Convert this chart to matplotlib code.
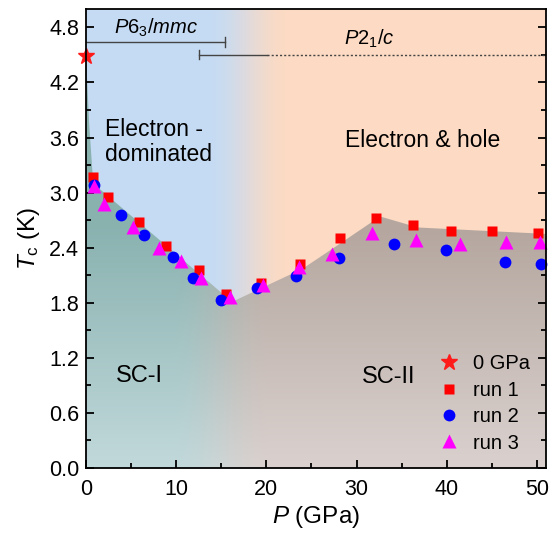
import numpy as np
import matplotlib
matplotlib.use("Agg")
import matplotlib.pyplot as plt
from matplotlib.patches import Polygon
from matplotlib.ticker import MultipleLocator

plt.rcParams['font.family'] = ['Liberation Sans', 'DejaVu Sans']
plt.rcParams['mathtext.fontset'] = 'custom'
plt.rcParams['mathtext.rm'] = 'Liberation Sans'
plt.rcParams['mathtext.it'] = 'Liberation Sans:italic'

# ---- data ----
p0 = [0.0]
tc0 = [4.49]

p_run1 = [0.8, 2.4, 5.9, 8.9, 12.5, 15.5, 19.4, 23.7, 28.2, 32.1, 36.2, 40.5, 45.0, 50.1]
tc_run1 = [3.17, 2.95, 2.68, 2.42, 2.16, 1.89, 2.01, 2.22, 2.51, 2.72, 2.65, 2.58, 2.58, 2.56]

p_run2 = [0.9, 3.9, 6.4, 9.7, 11.9, 15.0, 19.0, 23.3, 28.0, 34.1, 39.9, 46.4, 50.4]
tc_run2 = [3.08, 2.76, 2.54, 2.30, 2.07, 1.83, 1.96, 2.09, 2.29, 2.44, 2.37, 2.24, 2.22]

p_run3 = [0.9, 2.0, 5.2, 8.1, 10.5, 12.8, 16.0, 19.6, 23.6, 27.3, 31.7, 36.6, 41.5, 46.6, 50.3]
tc_run3 = [3.07, 2.88, 2.62, 2.40, 2.25, 2.07, 1.86, 1.99, 2.19, 2.33, 2.56, 2.48, 2.44, 2.46, 2.46]

# SC dome boundary (upper edge of shaded region)
boundary_p = [0.0, 0.35, 0.8, 16.2, 24.0, 27.5, 32.6, 36.8, 51.0]
boundary_tc = [4.49, 3.75, 3.10, 1.81, 2.17, 2.40, 2.74, 2.62, 2.55]

phase1_label = r'$P$6$_3$/$mmc$'
phase2_label = r'$P$2$_1$/$c$'
phase1_range = [0.0, 15.45]
phase1_tc = 4.64
phase2_start, phase2_solid_end, phase2_end = 12.5, 20.1, 51.0
phase2_tc = 4.50

xlim = (0, 51)
ylim = (0, 5.0)

# ---- figure ----
fig = plt.figure(figsize=(5.51, 5.39), dpi=100)
ax = fig.add_axes([86/551, 1-468/539, 460/551, 459/539])
ax.set_xlim(*xlim)
ax.set_ylim(*ylim)

def smooth(t):
    t = np.clip(t, 0, 1)
    return t*t*(3-2*t)

nx, ny = 400, 300
xs = np.linspace(xlim[0], xlim[1], nx)
ys = np.linspace(ylim[0], ylim[1], ny)
X, Y = np.meshgrid(xs, ys)

blue = np.array([0.775, 0.86, 0.955])
peach = np.array([0.99, 0.855, 0.765])
s = smooth((X - 13.5) / 9.0)[..., None]
bg = blue*(1-s) + peach*s
ax.imshow(bg, extent=[xlim[0], xlim[1], ylim[0], ylim[1]], origin='lower',
          aspect='auto', zorder=0, interpolation='bilinear')

teal_top = np.array([0.54, 0.70, 0.69])
teal_bot = np.array([0.76, 0.85, 0.86])
brown_top = np.array([0.71, 0.655, 0.625])
brown_bot = np.array([0.855, 0.82, 0.81])
tv = np.clip(Y / 2.6, 0, 1)[..., None]
teal = teal_bot*(1-tv) + teal_top*tv
brown = brown_bot*(1-tv) + brown_top*tv
s2 = smooth((X - 9.5) / 11.0)[..., None]
fillc = teal*(1-s2) + brown*s2
im = ax.imshow(fillc, extent=[xlim[0], xlim[1], ylim[0], ylim[1]], origin='lower',
               aspect='auto', zorder=1, interpolation='bilinear')
poly_pts = list(zip(boundary_p, boundary_tc)) + [(boundary_p[-1], 0), (boundary_p[0], 0)]
poly = Polygon(poly_pts, closed=True, transform=ax.transData, facecolor='none', edgecolor='none')
ax.add_patch(poly)
im.set_clip_path(poly)

# phase bars
lc = '#444444'
ax.plot(phase1_range, [phase1_tc]*2, color=lc, lw=1.0, zorder=3)
ax.plot([phase1_range[1]]*2, [phase1_tc-0.05, phase1_tc+0.05], color=lc, lw=1.0, zorder=3)
ax.plot([phase2_start, phase2_solid_end], [phase2_tc]*2, color=lc, lw=1.0, zorder=3)
ax.plot([phase2_start]*2, [phase2_tc-0.05, phase2_tc+0.05], color=lc, lw=1.0, zorder=3)
ax.plot([phase2_solid_end, phase2_end], [phase2_tc]*2, color=lc, lw=1.0,
        ls=(0, (1.5, 1.5)), zorder=3)
ax.text(7.8, 4.80, phase1_label, fontsize=14.5, ha='center', va='center', zorder=4)
ax.text(31.4, 4.68, phase2_label, fontsize=14.5, ha='center', va='center', zorder=4)

# region labels
ax.text(2.1, 3.55, 'Electron -\ndominated', fontsize=16.5, ha='left', va='center',
        linespacing=1.15, zorder=4)
ax.text(37.3, 3.57, 'Electron & hole', fontsize=16.5, ha='center', va='center', zorder=4)
ax.text(5.9, 1.0, 'SC-I', fontsize=17, ha='center', va='center', zorder=4)
ax.text(33.5, 0.99, 'SC-II', fontsize=17, ha='center', va='center', zorder=4)

# data points
ax.plot(p0, tc0, ls='none', marker='*', ms=12, color='#ff1a1a', mec='#ff1a1a',
        label='0 GPa', zorder=6, clip_on=False)
ax.plot(p_run1, tc_run1, ls='none', marker='s', ms=7.5, color='#ff0000', mec='none',
        label='run 1', zorder=5, clip_on=False)
ax.plot(p_run2, tc_run2, ls='none', marker='o', ms=8.5, color='#0000ff', mec='none',
        label='run 2', zorder=5, clip_on=False)
ax.plot(p_run3, tc_run3, ls='none', marker='^', ms=9.5, color='#ff00ff', mec='none',
        label='run 3', zorder=5, clip_on=False)

leg = ax.legend(loc='upper left', bbox_to_anchor=(0.767, 0.248), frameon=False,
                fontsize=14.5, handlelength=1.0, handletextpad=0.7,
                labelspacing=0.37, borderaxespad=0.0, borderpad=0.0)

# axes styling
ax.xaxis.set_major_locator(MultipleLocator(10))
ax.xaxis.set_minor_locator(MultipleLocator(5))
ax.yaxis.set_major_locator(MultipleLocator(0.6))
ax.yaxis.set_minor_locator(MultipleLocator(0.3))
ax.yaxis.set_major_formatter(matplotlib.ticker.FormatStrFormatter('%.1f'))
ax.tick_params(which='both', direction='in', top=False, right=True, width=1.3,
               labelsize=15.5)
ax.tick_params(which='major', length=6)
ax.tick_params(which='minor', length=3.5)
ax.tick_params(axis='x', pad=8)
ax.tick_params(axis='y', pad=5)
for sp in ax.spines.values():
    sp.set_linewidth(1.3)
    sp.set_zorder(7)

ax.set_xlabel(r'$P$ (GPa)', fontsize=17.5, labelpad=3)
ax.set_ylabel(r'$T_{\rm c}$ (K)', fontsize=17.5, labelpad=5)

fig.savefig('out.png', dpi=100)
